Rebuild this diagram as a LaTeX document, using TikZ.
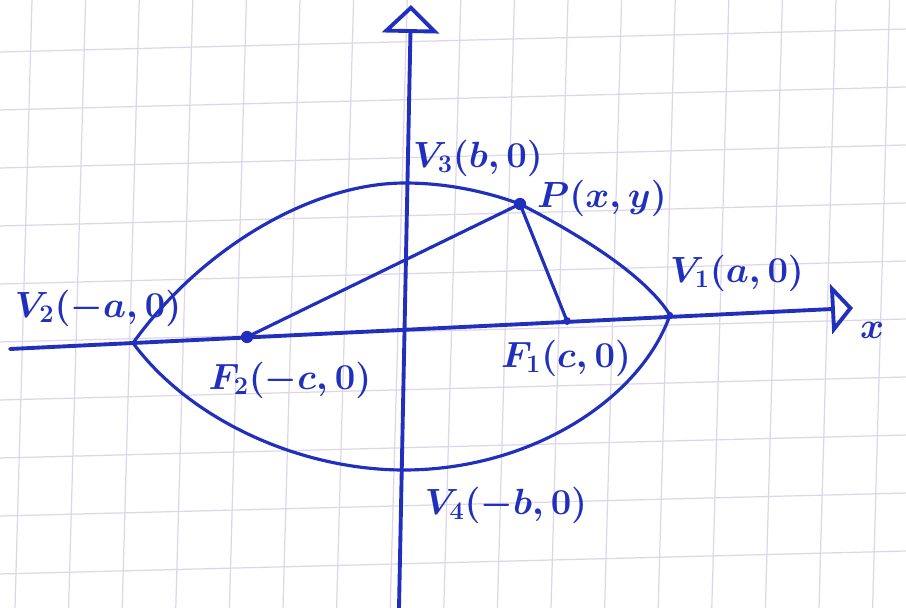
\documentclass[tikz,border=0pt]{standalone}
\usepackage{tikz}
\usetikzlibrary{arrows.meta}
\definecolor{ink}{HTML}{2030BC}
\definecolor{gridline}{HTML}{DCD6E8}
\tikzset{
  axis/.style={draw=ink,line width=2.2pt,line cap=round,line join=round},
  curve/.style={draw=ink,line width=1.8pt,line cap=round,line join=round},
  lbl/.style={text=ink,font=\fontsize{22}{25}\selectfont\boldmath,inner sep=0pt},
  dot/.style={fill=ink,circle,inner sep=0pt,minimum size=#1},
  dot/.default=7pt,
  papergrid/.style={draw=gridline,line width=0.7pt},
}

\begin{document}
\begin{tikzpicture}[x=0.02cm,y=-0.02cm]
  \useasboundingbox (0,0) rectangle (906,608);
  \clip (0,0) rectangle (906,608);
  \fill[white] (0,0) rectangle (906,608);
  \foreach \k in {-1,...,17} {\draw[papergrid] ({32+53.6*\k},0) -- ({15+53.6*\k},608);}
  \foreach \k in {-1,...,10} {\draw[papergrid] (0,{52+58*\k}) -- (906,{29+58*\k});}

  \coordinate (xstart) at (10,349);
  \coordinate (xend) at (853,308);
  \coordinate (ystart) at (399,608);
  \coordinate (yend) at (411,5);
  \coordinate (vone) at (670,315);
  \coordinate (vtwo) at (133,343);
  \coordinate (vthree) at (405,183);
  \coordinate (vfour) at (404,470);
  \coordinate (fone) at (567,321);
  \coordinate (ftwo) at (247,337);
  \coordinate (pt) at (520,204);

  \draw[axis,-{Triangle[open,length=0.44cm,width=1cm]}] (xstart) -- (xend);
  \draw[axis,-{Triangle[open,length=0.56cm,width=1.14cm]}] (ystart) -- (yend);

  \draw[curve] (vtwo) .. controls (200,250) and (310,183) .. (vthree)
    .. controls (450,183) and (490,193) .. (pt)
    .. controls (580,235) and (645,275) .. (vone);
  \draw[curve] (vtwo) .. controls (190,420) and (300,470) .. (vfour)
    .. controls (530,470) and (640,400) .. (vone);
  \draw[curve] (pt) -- (ftwo);
  \draw[curve] (pt) -- (fone);

  \node[dot] at (pt) {};
  \node[dot] at (ftwo) {};
  \node[dot=4.5pt] at (fone) {};
  \node[dot=3.5pt] at (vone) {};

  \node[lbl] (lvthree) at (478,158) {$V_3(b,0)$};
  \node[lbl] (lpt) at (602,198) {$P(x,y)$};
  \node[lbl] (lvtwo) at (98,308) {$V_2(-a,0)$};
  \node[lbl] (lftwo) at (290,380) {$F_2(-c,0)$};
  \node[lbl] (lfone) at (566,358) {$F_1(c,0)$};
  \node[lbl] (lvone) at (737,273) {$V_1(a,0)$};
  \node[lbl] (lx) at (872,330) {$x$};
  \node[lbl] (lvfour) at (506,505) {$V_4(-b,0)$};
\end{tikzpicture}
\end{document}
